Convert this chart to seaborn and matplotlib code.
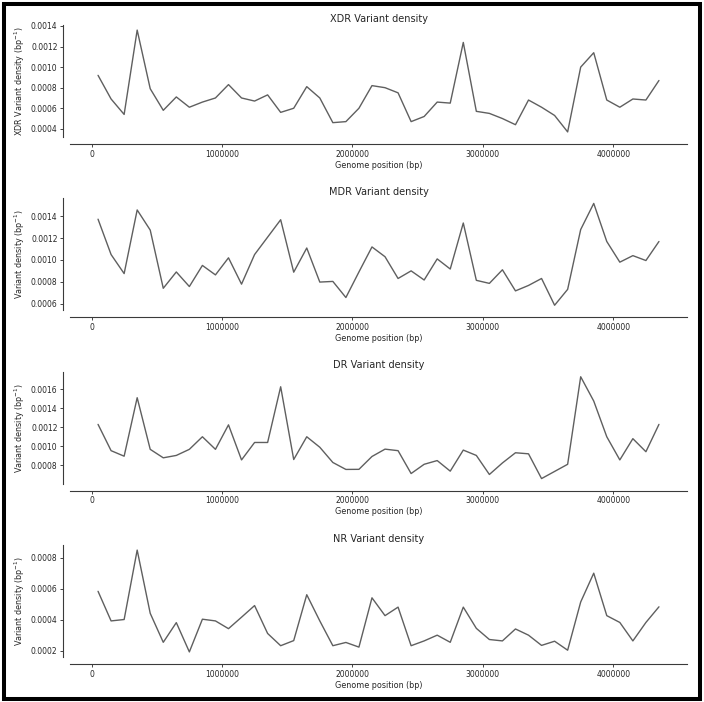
import matplotlib
matplotlib.use("Agg")
import matplotlib.pyplot as plt
import seaborn as sns
import pandas as pd
from matplotlib.patches import Rectangle

# ---------------- data ----------------
positions = [50000, 150000, 250000, 350000, 450000, 550000, 650000, 750000, 850000, 950000,
             1050000, 1150000, 1250000, 1350000, 1450000, 1550000, 1650000, 1750000, 1850000, 1950000,
             2050000, 2150000, 2250000, 2350000, 2450000, 2550000, 2650000, 2750000, 2850000, 2950000,
             3050000, 3150000, 3250000, 3350000, 3450000, 3550000, 3650000, 3750000, 3850000, 3950000,
             4050000, 4150000, 4250000, 4350000]

xdr = [0.00092, 0.00069, 0.00054, 0.00136, 0.00079, 0.00058, 0.00071, 0.00061, 0.00066, 0.00070,
       0.00083, 0.00070, 0.00067, 0.00073, 0.00056, 0.00060, 0.00081, 0.00070, 0.00046, 0.00047,
       0.00060, 0.00082, 0.00080, 0.00075, 0.00047, 0.00052, 0.00066, 0.00065, 0.00124, 0.00057,
       0.00055, 0.00050, 0.00044, 0.00068, 0.00061, 0.00053, 0.00037, 0.00100, 0.00114, 0.00068,
       0.00061, 0.00069, 0.00068, 0.00087]

mdr = [0.001375, 0.00105, 0.000875, 0.00146, 0.001275, 0.00074, 0.00089, 0.000756, 0.00095, 0.000863,
       0.00102, 0.000778, 0.00105, 0.00121, 0.00137, 0.000888, 0.00111, 0.000797, 0.000803, 0.000655,
       0.00089, 0.00112, 0.00103, 0.00083, 0.0009, 0.000816, 0.00101, 0.000917, 0.00134, 0.000813,
       0.000785, 0.00091, 0.000716, 0.000766, 0.00083, 0.000584, 0.00073, 0.00128, 0.00152, 0.00117,
       0.00098, 0.00104, 0.000995, 0.00117]

dr = [0.00123, 0.000954, 0.000896, 0.00151, 0.000968, 0.000879, 0.000904, 0.000968, 0.0011, 0.000968,
      0.001225, 0.000857, 0.00104, 0.00104, 0.001625, 0.000861, 0.0011, 0.00099, 0.00083, 0.000757,
      0.000758, 0.000893, 0.00097, 0.000954, 0.000714, 0.000811, 0.00085, 0.000739, 0.00096, 0.000904,
      0.000704, 0.000825, 0.000932, 0.000921, 0.000661, 0.000736, 0.000811, 0.00173, 0.001475, 0.0011,
      0.000857, 0.00108, 0.000943, 0.00123]

nr = [0.000582, 0.000391, 0.0004, 0.000848, 0.00044, 0.000253, 0.00038, 0.000191, 0.000402, 0.000391,
      0.000341, 0.000415, 0.00049, 0.00031, 0.000231, 0.000264, 0.00056, 0.000391, 0.000231, 0.000252,
      0.000222, 0.00054, 0.000425, 0.00048, 0.000231, 0.000262, 0.000299, 0.000253, 0.00048, 0.000343,
      0.000271, 0.000262, 0.000339, 0.000299, 0.000233, 0.00026, 0.000202, 0.000513, 0.000699, 0.000425,
      0.000381, 0.000262, 0.000381, 0.000482]

titles = ["XDR Variant density", "MDR Variant density", "DR Variant density", "NR Variant density"]
ylabels = ["XDR Variant density (bp$^{-1}$)", "Variant density (bp$^{-1}$)",
           "Variant density (bp$^{-1}$)", "Variant density (bp$^{-1}$)"]
xlabel = "Genome position (bp)"

x_ticks = [0, 1000000, 2000000, 3000000, 4000000]
x_tick_labels = ["0", "1000000", "2000000", "3000000", "4000000"]
y_ticks_xdr = [0.0004, 0.0006, 0.0008, 0.0010, 0.0012, 0.0014]
y_ticks_mdr = [0.0006, 0.0008, 0.0010, 0.0012, 0.0014]
y_ticks_dr = [0.0008, 0.0010, 0.0012, 0.0014, 0.0016]
y_ticks_nr = [0.0002, 0.0004, 0.0006, 0.0008]

series = [xdr, mdr, dr, nr]
yticks_all = [y_ticks_xdr, y_ticks_mdr, y_ticks_dr, y_ticks_nr]

# ---------------- style ----------------
sns.set_theme(style="ticks")
plt.rcParams["font.family"] = ["DejaVu Sans"]
text_color = "#262626"
line_color = "#5f5f5f"

fig, axes = plt.subplots(4, 1, figsize=(7.04, 7.02), dpi=100)
fig.subplots_adjust(left=70 / 704, right=687 / 704, top=1 - 25 / 702,
                    bottom=1 - 657 / 702, hspace=0.5476)

for ax, vals, title, ylab, yt in zip(axes, series, titles, ylabels, yticks_all):
    df = pd.DataFrame({"pos": positions, "density": vals})
    sns.lineplot(data=df, x="pos", y="density", ax=ax, color=line_color, linewidth=1.0)
    ax.set_title(title, fontsize=7, color=text_color, pad=2.5)
    ax.set_xlabel(xlabel, fontsize=5.8, color=text_color, labelpad=1.5)
    ax.set_ylabel(ylab, fontsize=5.8, color=text_color, labelpad=3)
    ax.set_xticks(x_ticks, x_tick_labels)
    ax.set_yticks(yt, [f"{v:.4f}" for v in yt])
    ax.tick_params(axis="both", labelsize=5.5, length=2, width=0.6, pad=2,
                   colors=text_color)
    sns.despine(ax=ax, offset=5)
    for side in ("left", "bottom"):
        ax.spines[side].set_linewidth(0.8)
        ax.spines[side].set_color("#3a3a3a")

# outer black frame
fig.patches.append(Rectangle((4 / 704, 3.5 / 702), 695.5 / 704, 695 / 702,
                             transform=fig.transFigure, fill=False,
                             edgecolor="black", linewidth=2.9))

fig.savefig("out.png", dpi=100)
